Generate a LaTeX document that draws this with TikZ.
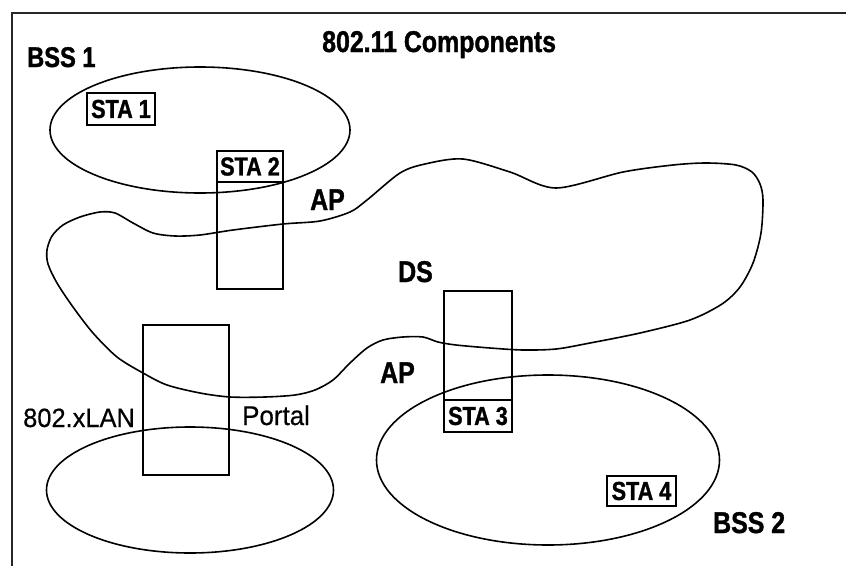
\documentclass[tikz,border=0pt]{standalone}
\usepackage{fontspec}
\setmainfont{Liberation Sans}
\newfontfamily\fb{Liberation Sans}[FakeStretch=0.83,FakeBold=1.2]
\newfontfamily\fr{Liberation Sans}[FakeStretch=0.96,FakeBold=0.5]
\usetikzlibrary{shapes.geometric}
\tikzset{
  curve/.style={draw, line width=1.6pt},
  oval/.style={ellipse, curve, inner sep=0pt},
  stabox/.style={draw, line width=1.1pt, inner sep=0pt, minimum width=68pt, minimum height=32pt,
     font=\fb\bfseries\fontsize{26}{26}\selectfont},
  apbox/.style={draw, line width=1.1pt, inner sep=0pt},
  lbl/.style={anchor=base west, inner sep=0pt, font=\fb\bfseries\fontsize{30}{30}\selectfont},
  lblr/.style={anchor=base west, inner sep=0pt, font=\fr\fontsize{26.5}{26.5}\selectfont},
}
\begin{document}
\begin{tikzpicture}[x=1pt,y=-1pt]
\useasboundingbox (0,0) rectangle (846,565);
% frame
\coordinate (fBL) at (12,567);
\coordinate (fTL) at (12,13);
\coordinate (fTR) at (848,13);
\draw[line width=2pt, black!85] (fBL) -- (fTL) -- (fTR);
% title
\node[lbl] (title) at (322,52) {802.11 Components};
% ellipses
\node[oval, minimum width=300pt, minimum height=126pt] (bss1) at (200,130) {};
\node[oval, minimum width=287pt, minimum height=126pt] (lan) at (190,490) {};
\node[oval, minimum width=343pt, minimum height=170pt] (bss2) at (548,460) {};
% DS cloud
\draw[curve] plot[smooth cycle, tension=0.5] coordinates {
 (47,250) (52,236) (63,225) (80,217) (100,212) (115,213) (133,223) (153,233) (175,236)
 (200,235) (233,230) (283,224) (320,221) (350,212) (367,200) (400,173) (425,164)
 (463,159) (510,172) (556,188) (623,172) (673,165) (706,163) (736,165) (752,172)
 (760,184) (763,200) (761,233) (753,263) (740,287) (722,304) (690,320) (640,333)
 (590,343) (556,349) (523,350) (490,348) (456,345) (438,342) (423,337) (403,337)
 (383,340) (367,348) (350,363) (333,380) (315,390) (295,395) (265,397) (230,397)
 (200,393) (167,385) (143,373) (117,357) (93,333) (73,307) (57,283) (48,264)};
% access point boxes
\node[apbox, minimum width=66pt, minimum height=138pt] (ap1) at (250,220) {};
\node[stabox, minimum width=66pt, minimum height=31pt] (sta2) at (250,166.5) {STA 2};
\node[apbox, line width=1.4pt, minimum width=68pt, minimum height=141pt] (ap2) at (478,361.5) {};
\node[stabox] (sta3) at (478,416) {STA 3};
\node[apbox, line width=1.5pt, minimum width=86pt, minimum height=150pt] (portalbox) at (186,400) {};
% stations
\node[stabox] (sta1) at (121,109) {STA 1};
\node[stabox, minimum width=69pt, minimum height=30pt] (sta4) at (641.5,491) {STA 4};
% labels
\node[lbl, font=\fb\bfseries\fontsize{28.5}{28.5}\selectfont] (bss1l) at (27,67) {BSS 1};
\node[lbl] (ap1l) at (310,210) {AP};
\node[lbl] (dsl) at (398,282) {DS};
\node[lbl] (ap2l) at (380,383) {AP};
\node[lblr] (lanl) at (23,427) {802.xLAN};
\node[lblr, font=\fr\fontsize{27}{27}\selectfont] (portall) at (242,425) {Portal};
\node[lbl] (bss2l) at (713,533) {BSS 2};
\end{tikzpicture}
\end{document}
